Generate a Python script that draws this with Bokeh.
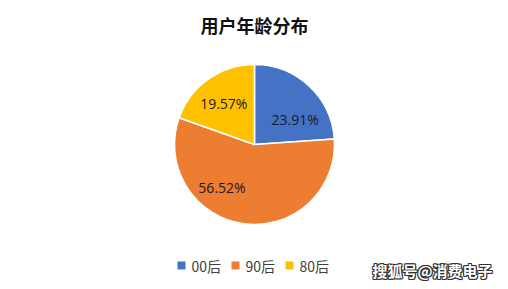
import math
from bokeh.plotting import figure
from bokeh.models import Range1d, ColumnDataSource
from bokeh.core.properties import value
from bokeh.embed import file_html
from bokeh.resources import INLINE

# ---- data ----
title = "用户年龄分布"
categories = ["00后", "90后", "80后"]
shares = [23.91, 56.52, 19.57]
colors = ["#4472C4", "#ED7D31", "#FFC000"]
watermark = "搜狐号@消费电子"

# ---- layout (screen-like coordinates, y up) ----
W, H = 508, 289
cx, cy, R = 254, 145, 80
label_angle_deg = [32, 233, 127]
label_r = [48, 54, 51]
legend_x = [181, 235, 289]
legend_y = 24

total = sum(shares)
starts, ends = [], []
a = math.pi / 2
for s in shares:
    starts.append(a)
    a -= s / total * 2 * math.pi
    ends.append(a)

p = figure(width=W, height=H, x_range=Range1d(0, W), y_range=Range1d(0, H),
           output_backend="svg", toolbar_location=None, min_border=0)
p.axis.visible = False
p.grid.visible = False
p.outline_line_color = None
p.background_fill_color = "white"
p.border_fill_color = "white"

src = ColumnDataSource(dict(start=starts, end=ends, color=colors))
p.wedge(x=cx, y=cy, radius=R, start_angle="start", end_angle="end",
        direction="clock", fill_color="color", line_color="white",
        line_width=1.5, source=src)

lx = [cx + r * math.cos(math.radians(t)) for r, t in zip(label_r, label_angle_deg)]
ly = [cy + r * math.sin(math.radians(t)) for r, t in zip(label_r, label_angle_deg)]
labels = [f"{v:.2f}%" for v in shares]
p.text(x=lx, y=ly, text=labels, text_align="center", text_baseline="middle",
       text_font=value("Open Sans"), text_font_size="14px", text_color="#1a1a2a")

# title
p.text(x=[W / 2], y=[H - 24], text=[title], text_align="center",
       text_baseline="middle", text_font=value("Noto Sans CJK SC"),
       text_font_size="18px", text_font_style="bold", text_color="#111111")

# legend
p.rect(x=legend_x, y=[legend_y] * 3, width=8, height=8, fill_color=colors,
       line_color=None)
p.text(x=[x + 10 for x in legend_x], y=[legend_y] * 3, text=categories,
       text_align="left", text_baseline="middle",
       text_font=value("Noto Sans CJK SC"), text_font_size="14px",
       text_color="#404040")

# watermark (white text with dark outline)
wx, wy = 432, 19
for dx, dy in [(-1, -1), (-1, 1), (1, -1), (1, 1), (0, 1), (0, -1), (1, 0), (-1, 0)]:
    p.text(x=[wx + dx], y=[wy + dy], text=[watermark], text_align="center",
           text_baseline="middle", text_font=value("Noto Sans CJK SC"),
           text_font_size="15px", text_font_style="bold", text_color="#333333")
p.text(x=[wx], y=[wy], text=[watermark], text_align="center",
       text_baseline="middle", text_font=value("Noto Sans CJK SC"),
       text_font_size="15px", text_font_style="bold", text_color="white")

open("out.html", "w").write(file_html(p, INLINE))
